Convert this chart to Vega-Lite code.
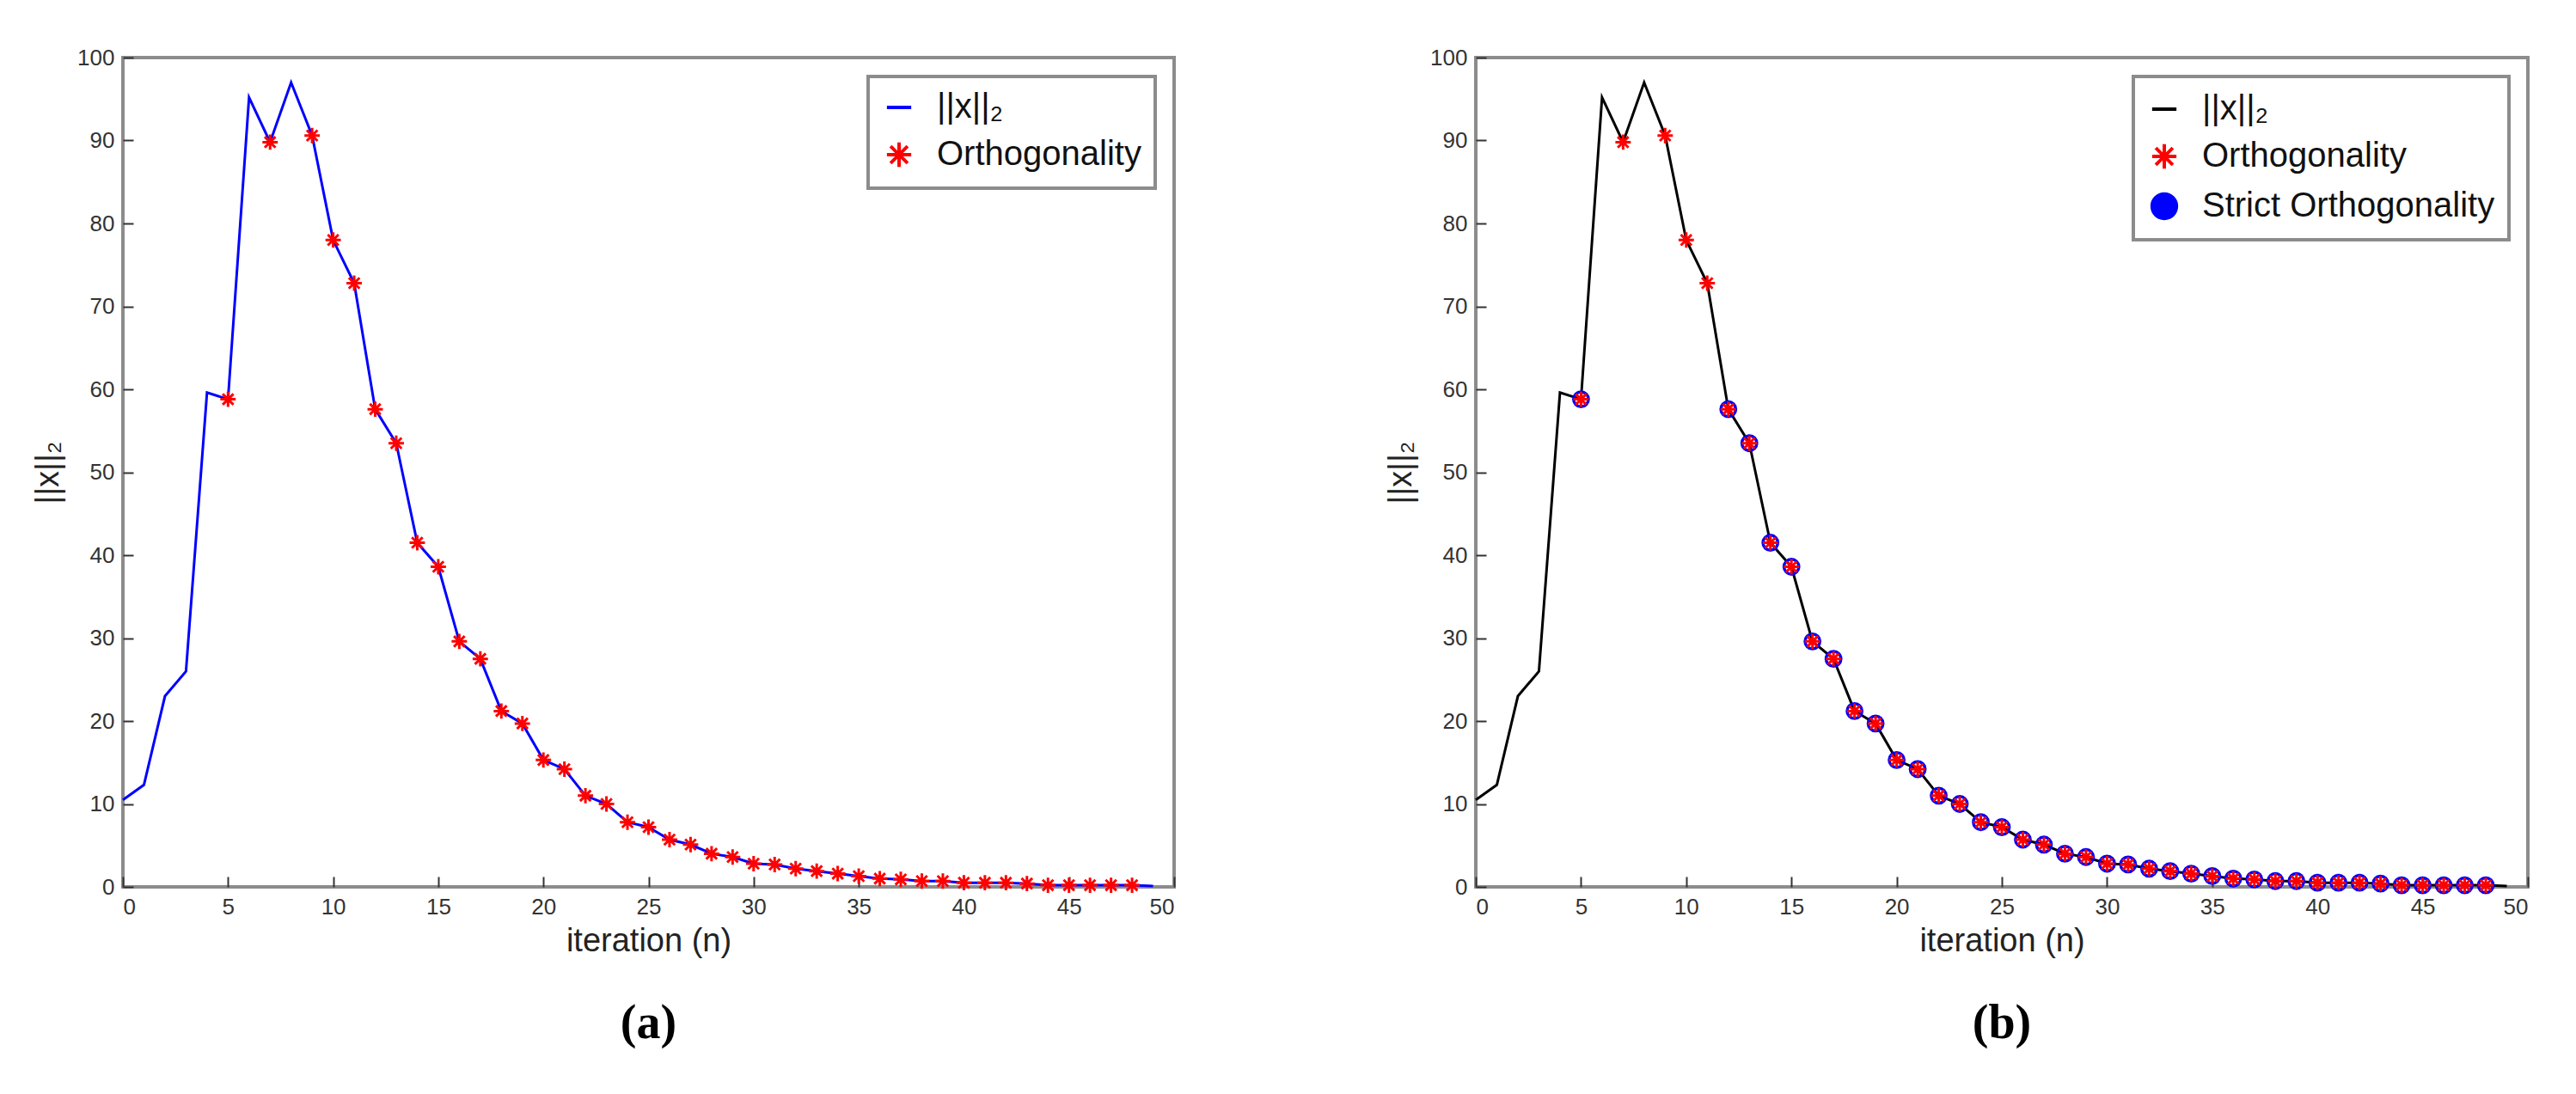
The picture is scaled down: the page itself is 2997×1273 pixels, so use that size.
{
  "$schema": "https://vega.github.io/schema/vega-lite/v6.json",
  "background": "white",
  "padding": {"left": 35, "top": 52, "right": 0, "bottom": 0},
  "autosize": {"type": "pad"},
  "datasets": {
    "norm": [
      {"n": 0, "x": 10.5, "orth": false, "strict": false},
      {"n": 1, "x": 12.3, "orth": false, "strict": false},
      {"n": 2, "x": 23.0, "orth": false, "strict": false},
      {"n": 3, "x": 26.0, "orth": false, "strict": false},
      {"n": 4, "x": 59.6, "orth": false, "strict": false},
      {"n": 5, "x": 58.8, "orth": true, "strict": true},
      {"n": 6, "x": 95.2, "orth": false, "strict": false},
      {"n": 7, "x": 89.8, "orth": true, "strict": false},
      {"n": 8, "x": 97.0, "orth": false, "strict": false},
      {"n": 9, "x": 90.6, "orth": true, "strict": false},
      {"n": 10, "x": 78.0, "orth": true, "strict": false},
      {"n": 11, "x": 72.8, "orth": true, "strict": false},
      {"n": 12, "x": 57.6, "orth": true, "strict": true},
      {"n": 13, "x": 53.5, "orth": true, "strict": true},
      {"n": 14, "x": 41.5, "orth": true, "strict": true},
      {"n": 15, "x": 38.6, "orth": true, "strict": true},
      {"n": 16, "x": 29.6, "orth": true, "strict": true},
      {"n": 17, "x": 27.5, "orth": true, "strict": true},
      {"n": 18, "x": 21.2, "orth": true, "strict": true},
      {"n": 19, "x": 19.7, "orth": true, "strict": true},
      {"n": 20, "x": 15.3, "orth": true, "strict": true},
      {"n": 21, "x": 14.2, "orth": true, "strict": true},
      {"n": 22, "x": 11.0, "orth": true, "strict": true},
      {"n": 23, "x": 10.0, "orth": true, "strict": true},
      {"n": 24, "x": 7.8, "orth": true, "strict": true},
      {"n": 25, "x": 7.2, "orth": true, "strict": true},
      {"n": 26, "x": 5.7, "orth": true, "strict": true},
      {"n": 27, "x": 5.1, "orth": true, "strict": true},
      {"n": 28, "x": 4.0, "orth": true, "strict": true},
      {"n": 29, "x": 3.6, "orth": true, "strict": true},
      {"n": 30, "x": 2.8, "orth": true, "strict": true},
      {"n": 31, "x": 2.7, "orth": true, "strict": true},
      {"n": 32, "x": 2.2, "orth": true, "strict": true},
      {"n": 33, "x": 1.9, "orth": true, "strict": true},
      {"n": 34, "x": 1.6, "orth": true, "strict": true},
      {"n": 35, "x": 1.3, "orth": true, "strict": true},
      {"n": 36, "x": 1.0, "orth": true, "strict": true},
      {"n": 37, "x": 0.9, "orth": true, "strict": true},
      {"n": 38, "x": 0.7, "orth": true, "strict": true},
      {"n": 39, "x": 0.7, "orth": true, "strict": true},
      {"n": 40, "x": 0.5, "orth": true, "strict": true},
      {"n": 41, "x": 0.5, "orth": true, "strict": true},
      {"n": 42, "x": 0.5, "orth": true, "strict": true},
      {"n": 43, "x": 0.4, "orth": true, "strict": true},
      {"n": 44, "x": 0.2, "orth": true, "strict": true},
      {"n": 45, "x": 0.2, "orth": true, "strict": true},
      {"n": 46, "x": 0.2, "orth": true, "strict": true},
      {"n": 47, "x": 0.2, "orth": true, "strict": true},
      {"n": 48, "x": 0.2, "orth": true, "strict": true},
      {"n": 49, "x": 0.1, "orth": false, "strict": false}
    ]
  },
  "spacing": 240,
  "hconcat": [
    {
      "width": 1223,
      "height": 965,
      "title": {"text": "(a)", "orient": "bottom", "offset": 50},
      "data": {"name": "norm"},
      "encoding": {
        "x": {"field": "n", "type": "quantitative", "title": "iteration (n)", "scale": {"domain": [0, 50], "nice": false}, "axis": {"values": [0, 5, 10, 15, 20, 25, 30, 35, 40, 45, 50]}},
        "y": {"field": "x", "type": "quantitative", "title": "||x||₂", "scale": {"domain": [0, 100], "nice": false}, "axis": {"values": [0, 10, 20, 30, 40, 50, 60, 70, 80, 90, 100]}}
      },
      "layer": [
        {
          "mark": {"type": "line", "strokeWidth": 3},
          "transform": [{"calculate": "'||x||₂'", "as": "series"}],
          "encoding": {
            "color": {"field": "series", "type": "nominal", "title": null, "scale": {"domain": ["||x||₂", "Orthogonality"], "range": ["#0000ff", "#ff0000"]}},
            "shape": {"field": "series", "type": "nominal", "title": null, "scale": {"domain": ["||x||₂", "Orthogonality"], "range": ["stroke", "M-1,0L1,0M0,-1L0,1M-0.7,-0.7L0.7,0.7M-0.7,0.7L0.7,-0.7"]}}
          }
        },
        {
          "mark": {"type": "point", "filled": false, "fill": "transparent", "strokeWidth": 3, "size": 320, "opacity": 1},
          "transform": [{"filter": "datum.orth"}, {"calculate": "'Orthogonality'", "as": "series"}],
          "encoding": {
            "color": {"field": "series", "type": "nominal", "title": null},
            "shape": {"field": "series", "type": "nominal", "title": null}
          }
        }
      ]
    },
    {
      "width": 1224,
      "height": 965,
      "title": {"text": "(b)", "orient": "bottom", "offset": 50},
      "data": {"name": "norm"},
      "encoding": {
        "x": {"field": "n", "type": "quantitative", "title": "iteration (n)", "scale": {"domain": [0, 50], "nice": false}, "axis": {"values": [0, 5, 10, 15, 20, 25, 30, 35, 40, 45, 50]}},
        "y": {"field": "x", "type": "quantitative", "title": "||x||₂", "scale": {"domain": [0, 100], "nice": false}, "axis": {"values": [0, 10, 20, 30, 40, 50, 60, 70, 80, 90, 100]}}
      },
      "layer": [
        {
          "mark": {"type": "line", "strokeWidth": 3},
          "transform": [{"calculate": "' ||x||₂'", "as": "series"}],
          "encoding": {
            "color": {"field": "series", "type": "nominal", "title": " ", "scale": {"domain": [" ||x||₂", "Orthogonality ", "Strict Orthogonality"], "range": ["#000000", "#ff0000", "#0000ff"]}},
            "shape": {"field": "series", "type": "nominal", "title": " ", "scale": {"domain": [" ||x||₂", "Orthogonality ", "Strict Orthogonality"], "range": ["stroke", "M-1,0L1,0M0,-1L0,1M-0.7,-0.7L0.7,0.7M-0.7,0.7L0.7,-0.7", "circle"]}}
          }
        },
        {
          "mark": {"type": "point", "filled": false, "fill": "transparent", "strokeWidth": 3.5, "size": 300, "opacity": 1},
          "transform": [{"filter": "datum.strict"}, {"calculate": "'Strict Orthogonality'", "as": "series"}],
          "encoding": {
            "color": {"field": "series", "type": "nominal", "title": " "},
            "shape": {"field": "series", "type": "nominal", "title": " "}
          }
        },
        {
          "mark": {"type": "point", "filled": false, "fill": "transparent", "strokeWidth": 3, "size": 320, "opacity": 1},
          "transform": [{"filter": "datum.orth"}, {"calculate": "'Orthogonality '", "as": "series"}],
          "encoding": {
            "color": {"field": "series", "type": "nominal", "title": " "},
            "shape": {"field": "series", "type": "nominal", "title": " "}
          }
        }
      ]
    }
  ],
  "resolve": {"scale": {"color": "independent", "shape": "independent"}, "legend": {"color": "independent", "shape": "independent"}},
  "config": {
    "font": "Liberation Sans",
    "view": {"stroke": "#8c8c8c", "strokeWidth": 4},
    "axis": {
      "grid": false,
      "domain": false,
      "tickColor": "#333333",
      "tickSize": -12,
      "tickWidth": 2,
      "labelFontSize": 26,
      "labelColor": "#333333",
      "labelPadding": 22,
      "titleFontSize": 38,
      "titleFontWeight": "normal",
      "titleColor": "#222222"
    },
    "axisY": {"titlePadding": 14},
    "axisX": {"titlePadding": 8},
    "title": {"font": "Liberation Serif", "fontSize": 56, "fontWeight": "bold", "color": "#000000"},
    "legend": {
      "orient": "top-right",
      "offset": 22,
      "strokeColor": "#8c8c8c",
      "strokeWidth": 4,
      "fillColor": "white",
      "padding": 16,
      "labelFontSize": 40,
      "labelLimit": 0,
      "labelColor": "#111111",
      "symbolSize": 800,
      "symbolStrokeWidth": 4,
      "symbolFillColor": "transparent",
      "rowPadding": 12,
      "labelOffset": 24,
      "titleFontSize": 2,
      "titlePadding": 0
    }
  }
}
